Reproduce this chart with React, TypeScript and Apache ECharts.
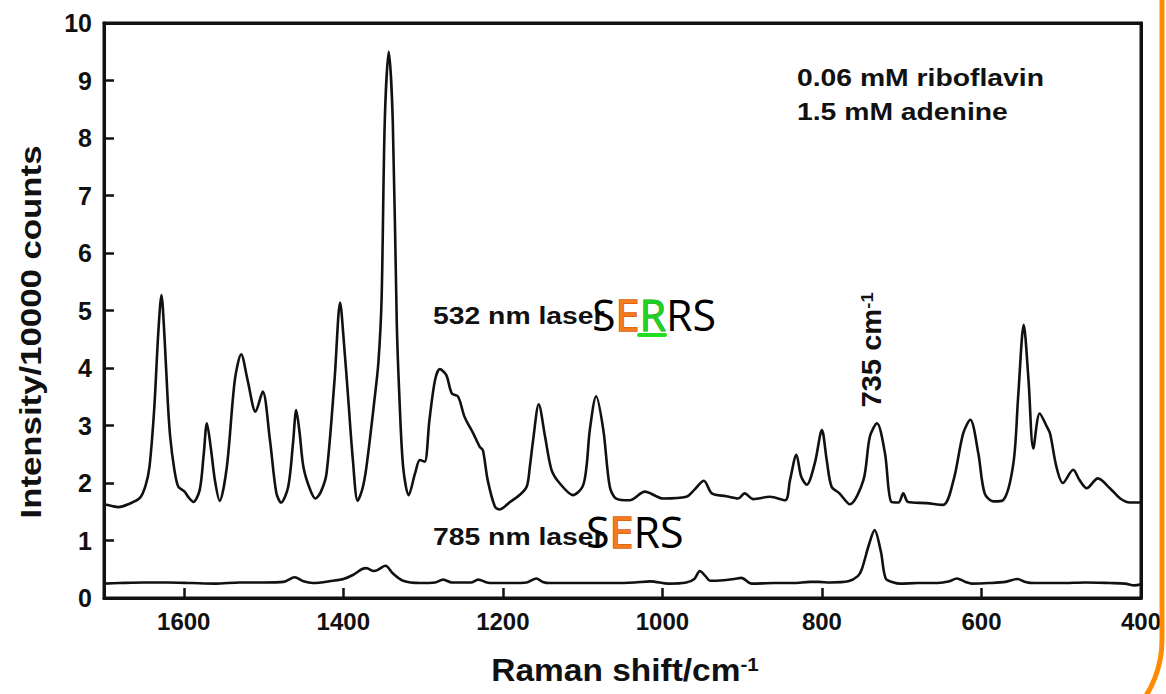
import React, { useEffect, useRef } from "react";
import * as echarts from "echarts";

// 532 nm laser (SERRS) spectrum: Raman shift (cm-1) and intensity (x10000 counts)
const shift532 = [
  1700, 1690, 1682, 1668, 1655, 1648, 1643, 1637, 1632, 1628, 1624, 1620, 1617, 1612, 1607, 1599, 1594, 1588,
  1580, 1575, 1571, 1566, 1561, 1555, 1546, 1536, 1528, 1520, 1510, 1501, 1492, 1484, 1478, 1469, 1463, 1459,
  1455, 1450, 1442, 1435, 1428, 1421, 1411, 1404, 1399, 1394, 1388, 1382, 1376, 1371, 1361, 1356, 1352, 1348,
  1343, 1338, 1333, 1330, 1325, 1318, 1310, 1304, 1298, 1292, 1285, 1279, 1271, 1264, 1256, 1248, 1237, 1229,
  1225, 1219, 1210, 1204, 1191, 1179, 1170, 1166, 1162, 1155, 1147, 1139, 1129, 1112, 1100, 1095, 1091, 1083,
  1074, 1066, 1058, 1041, 1022, 999, 970, 960, 948, 938, 920, 905, 897, 886, 865, 846, 840, 832, 826, 819, 809,
  800, 794, 788, 778, 765, 748, 740, 731, 721, 713, 704, 698, 692, 669, 648, 635, 623, 614, 604, 596, 585, 573,
  560, 554, 547, 541, 535, 527, 518, 514, 506, 498, 485, 477, 468, 454, 439, 426, 414, 400,
];
const counts532 = [
  1.63, 1.6, 1.58, 1.64, 1.74, 1.95, 2.28, 3.3, 4.6, 5.27, 4.5, 3.4, 2.8, 2.25, 1.94, 1.85, 1.75, 1.67,
  1.88, 2.5, 3.04, 2.6, 2.05, 1.69, 2.28, 3.79, 4.24, 3.79, 3.24, 3.59, 2.75, 1.83, 1.66, 1.94, 2.7, 3.27,
  2.9, 2.28, 1.9, 1.73, 1.85, 2.17, 3.79, 5.14, 4.4, 3.5, 2.4, 1.69, 1.9, 2.28, 3.44, 4.1, 5.2, 8.3,
  9.5, 8.3, 4.8, 3.6, 2.28, 1.79, 2.17, 2.4, 2.37, 3.1, 3.79, 3.98, 3.88, 3.56, 3.5, 3.15, 2.86, 2.63,
  2.57, 2.05, 1.59, 1.54, 1.67, 1.79, 1.94, 2.3, 2.75, 3.37, 2.8, 2.23, 2.0, 1.79, 1.94, 2.3, 2.92, 3.51,
  2.92, 1.94, 1.73, 1.7, 1.85, 1.73, 1.76, 1.88, 2.04, 1.82, 1.77, 1.73, 1.82, 1.72, 1.76, 1.7, 2.05, 2.49, 2.11, 1.97, 2.34,
  2.92, 2.4, 1.94, 1.82, 1.63, 2.05, 2.8, 3.04, 2.52, 1.67, 1.66, 1.82, 1.67, 1.65, 1.62, 2.05, 2.86, 3.1, 2.52, 1.82, 1.68, 1.7,
  2.34, 3.5, 4.75, 3.79, 2.6, 3.21, 2.98, 2.86, 2.28, 2.0, 2.23, 2.05, 1.91, 2.08, 1.91, 1.73, 1.66, 1.66,
];

// 785 nm laser (SERS) spectrum
const shift785 = [
  1700, 1680, 1650, 1620, 1590, 1560, 1530, 1500, 1475, 1461, 1450, 1438, 1413, 1400, 1388, 1377, 1371, 1362,
  1358, 1347, 1338, 1325, 1304, 1285, 1275, 1264, 1254, 1240, 1231, 1220, 1212, 1190, 1170, 1158, 1150, 1141,
  1100, 1060, 1035, 1015, 992, 970, 960, 953, 946, 940, 923, 910, 901, 888, 860, 836, 815, 804, 790, 767, 755,
  750, 741, 734, 726, 720, 710, 702, 680, 655, 640, 631, 620, 612, 590, 570, 555, 545, 534, 500, 470, 439, 420,
  408, 400,
];
const counts785 = [
  0.25, 0.26, 0.27, 0.27, 0.26, 0.25, 0.27, 0.27, 0.28, 0.36, 0.29, 0.26, 0.3, 0.33, 0.4, 0.5, 0.52, 0.47,
  0.48, 0.56, 0.43, 0.3, 0.26, 0.27, 0.32, 0.27, 0.27, 0.27, 0.32, 0.27, 0.26, 0.26, 0.27, 0.34, 0.28, 0.26,
  0.26, 0.26, 0.27, 0.29, 0.25, 0.27, 0.33, 0.47, 0.38, 0.3, 0.31, 0.33, 0.35, 0.25, 0.26, 0.26, 0.28, 0.28, 0.27, 0.29, 0.38,
  0.5, 0.93, 1.18, 0.8, 0.34, 0.27, 0.25, 0.26, 0.26, 0.29, 0.34, 0.28, 0.25, 0.26, 0.28, 0.33, 0.28, 0.26, 0.26, 0.27, 0.26, 0.25,
  0.22, 0.24,
];

const xMin = 400;
const xMax = 1700;
const xStep = 200;
const yMin = 0;
const yMax = 10;
const yStep = 1;

const FONT = '"Liberation Sans", Arial, Helvetica, sans-serif';
const SLIDE_FONT = '"Open Sans", "Noto Sans", sans-serif';

const GRID = { left: 104, top: 23, right: 25, bottom: 96 };
const W = 1166;
const H = 694;

export default function App() {
  const ref = useRef<HTMLDivElement>(null);

  useEffect(() => {
    document.body.style.margin = "0";
    const chart = echarts.init(ref.current!, null, { renderer: "svg" });

    const data532 = shift532.map((x, i) => [x, counts532[i]]);
    const data785 = shift785.map((x, i) => [x, counts785[i]]);

    const tickStyle = { show: true, inside: true, length: 10, lineStyle: { color: "#111111", width: 2.5 } };
    const frameLine = { show: true, onZero: false, lineStyle: { color: "#111111", width: 3 } };

    const boldText = (text: string, x: number, y: number, size: number, scaleX = 1) => ({
      type: "text",
      x,
      y,
      scaleX,
      z: 5,
      style: {
        text,
        fontFamily: FONT,
        fontWeight: "bold",
        fontSize: size,
        fill: "#111111",
        align: "left",
        verticalAlign: "middle",
      },
    });

    chart.setOption({
      animation: false,
      grid: { ...GRID },
      xAxis: [
        {
          type: "value",
          position: "bottom",
          min: xMin,
          max: xMax,
          interval: xStep,
          inverse: true,
          axisLine: frameLine,
          splitLine: { show: false },
          axisTick: tickStyle,
          axisLabel: {
            margin: 11,
            color: "#111111",
            fontFamily: FONT,
            fontWeight: "bold",
            fontSize: 24,
            showMaxLabel: false,
            formatter: (v: number) => String(v),
          },
        },
        {
          type: "value",
          position: "top",
          min: xMin,
          max: xMax,
          interval: xStep,
          inverse: true,
          axisLine: frameLine,
          splitLine: { show: false },
          axisTick: { show: false },
          axisLabel: { show: false },
        },
      ],
      yAxis: [
        {
          type: "value",
          position: "left",
          min: yMin,
          max: yMax,
          interval: yStep,
          axisLine: frameLine,
          splitLine: { show: false },
          axisTick: tickStyle,
          axisLabel: {
            margin: 12,
            color: "#111111",
            fontFamily: FONT,
            fontWeight: "bold",
            fontSize: 25,
          },
        },
        {
          type: "value",
          position: "right",
          min: yMin,
          max: yMax,
          interval: yStep,
          axisLine: frameLine,
          splitLine: { show: false },
          axisTick: { show: false },
          axisLabel: { show: false },
        },
      ],
      series: [
        {
          name: "532 nm laser",
          type: "line",
          data: data532,
          showSymbol: false,
          smooth: 0.3,
          silent: true,
          lineStyle: { color: "#111111", width: 2.6 },
        },
        {
          name: "785 nm laser",
          type: "line",
          data: data785,
          showSymbol: false,
          smooth: 0.3,
          silent: true,
          lineStyle: { color: "#111111", width: 2.6 },
        },
      ],
      graphic: [
        // plot frame
        {
          type: "rect",
          z: 100,
          shape: {
            x: GRID.left,
            y: GRID.top,
            width: W - GRID.left - GRID.right,
            height: H - GRID.top - GRID.bottom,
          },
          style: { fill: "none", stroke: "#111111", lineWidth: 3 },
        },
        // y-axis title
        {
          type: "text",
          x: 31,
          y: 332,
          rotation: Math.PI / 2,
          scaleX: 1.16,
          style: {
            text: "Intensity/10000 counts",
            fontFamily: FONT,
            fontWeight: "bold",
            fontSize: 30,
            fill: "#111111",
            align: "center",
            verticalAlign: "middle",
          },
        },
        // x-axis title
        {
          type: "text",
          x: 625,
          y: 670,
          scaleX: 1.08,
          style: {
            text: "{a|Raman shift/cm}{b|-1}",
            align: "center",
            verticalAlign: "middle",
            rich: {
              a: { fontFamily: FONT, fontWeight: "bold", fontSize: 31, fill: "#111111", verticalAlign: "bottom" },
              b: { fontFamily: FONT, fontWeight: "bold", fontSize: 19, fill: "#111111", verticalAlign: "top" },
            },
          },
        },
        boldText("0.06 mM riboflavin", 797, 78, 24, 1.18),
        boldText("1.5 mM adenine", 797, 112, 24, 1.18),
        boldText("532 nm laser", 433, 316, 24, 1.18),
        boldText("785 nm laser", 433, 537, 24, 1.18),
        // 735 cm-1 vertical label
        {
          type: "text",
          x: 872,
          y: 350,
          rotation: Math.PI / 2,
          scaleX: 1.08,
          z: 5,
          style: {
            text: "{a|735 cm}{b|-1}",
            align: "center",
            verticalAlign: "middle",
            rich: {
              a: { fontFamily: FONT, fontWeight: "bold", fontSize: 27, fill: "#111111", verticalAlign: "bottom" },
              b: { fontFamily: FONT, fontWeight: "bold", fontSize: 17, fill: "#111111", verticalAlign: "top" },
            },
          },
        },
        // SERRS
        {
          type: "text",
          x: 592,
          y: 314,
          z: 20,
          style: {
            text: "{k|S}{e|E}{g|R}{k|RS}",
            align: "left",
            verticalAlign: "middle",
            rich: {
              k: { fontFamily: SLIDE_FONT, fontSize: 43, fill: "#000000" },
              e: { fontFamily: SLIDE_FONT, fontSize: 43, fill: "#F47B20", stroke: "#D9600A", lineWidth: 1.5 },
              g: { fontFamily: SLIDE_FONT, fontSize: 43, fill: "#1FD21F", stroke: "#139E13", lineWidth: 1 },
            },
          },
        },
        {
          type: "rect",
          z: 20,
          shape: { x: 637, y: 333, width: 30, height: 4, r: 2 },
          style: { fill: "#22DD22" },
        },
        // SERS
        {
          type: "text",
          x: 586,
          y: 531,
          z: 20,
          style: {
            text: "{k|S}{e|E}{k|RS}",
            align: "left",
            verticalAlign: "middle",
            rich: {
              k: { fontFamily: SLIDE_FONT, fontSize: 43, fill: "#000000" },
              e: { fontFamily: SLIDE_FONT, fontSize: 43, fill: "#F47B20", stroke: "#D9600A", lineWidth: 1.5 },
            },
          },
        },
        // orange slide border (rounded corner at bottom right)
        {
          type: "rect",
          z: 30,
          silent: true,
          shape: { x: -100, y: -200, width: 1262, height: 945, r: 105 },
          style: { fill: "none", stroke: "#FF8C00", lineWidth: 5 },
        },
      ],
    });

    return () => chart.dispose();
  }, []);

  return <div ref={ref} style={{ width: W, height: H }} />;
}
